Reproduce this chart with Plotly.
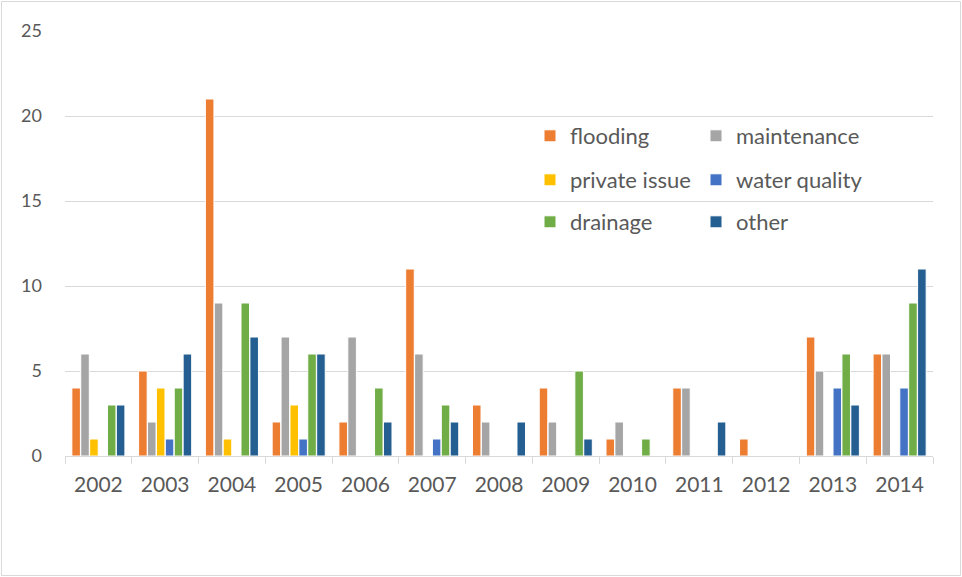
import plotly.graph_objects as go

years = ["2002", "2003", "2004", "2005", "2006", "2007", "2008",
         "2009", "2010", "2011", "2012", "2013", "2014"]
flooding = [4, 5, 21, 2, 2, 11, 3, 4, 1, 4, 1, 7, 6]
maintenance = [6, 2, 9, 7, 7, 6, 2, 2, 2, 4, 0, 5, 6]
private_issue = [1, 4, 1, 3, 0, 0, 0, 0, 0, 0, 0, 0, 0]
water_quality = [0, 1, 0, 1, 0, 1, 0, 0, 0, 0, 0, 4, 4]
drainage = [3, 4, 9, 6, 4, 3, 0, 5, 1, 0, 0, 6, 9]
other = [3, 6, 7, 6, 2, 2, 2, 1, 0, 2, 0, 3, 11]

series = [
    ("flooding", flooding, "#ED7D31", "legend"),
    ("maintenance", maintenance, "#A5A5A5", "legend"),
    ("private issue", private_issue, "#FFC000", "legend2"),
    ("water quality", water_quality, "#4472C4", "legend2"),
    ("drainage", drainage, "#70AD47", "legend3"),
    ("other", other, "#255E91", "legend3"),
]

W, H = 962, 577
ml, mr, mt, mb = 65, 29, 31, 121
pw, ph = W - ml - mr, H - mt - mb

fig = go.Figure()
for name, vals, color, lg in series:
    fig.add_trace(go.Bar(
        x=years, y=vals, name=name, legend=lg,
        marker=dict(color=color, line=dict(color="white", width=1)),
    ))

def px_x(x):
    return (x - ml) / pw

def px_y(y):
    return (H - mb - y) / ph

FONT = "Lato, Open Sans, sans-serif"
leg_common = dict(
    orientation="h", xanchor="left", yanchor="middle",
    font=dict(family=FONT, size=22, color="#595959"),
    bgcolor="rgba(0,0,0,0)", entrywidth=121, entrywidthmode="pixels",
    itemwidth=30, traceorder="normal",
)

fig.update_layout(
    width=W, height=H,
    margin=dict(l=ml, r=mr, t=mt, b=mb, pad=0, autoexpand=False),
    paper_bgcolor="white", plot_bgcolor="white",
    barmode="group", bargap=0.2, bargroupgap=0.04,
    font=dict(family=FONT, color="#595959"),
    legend=dict(x=px_x(530), y=px_y(136), **leg_common),
    legend2=dict(x=px_x(530), y=px_y(180), **leg_common),
    legend3=dict(x=px_x(530), y=px_y(222), **leg_common),
    xaxis=dict(
        type="category", showgrid=False, showline=True, linecolor="#D9D9D9",
        linewidth=1, ticks="outside", tickson="boundaries", ticklen=7,
        tickcolor="#D9D9D9", tickfont=dict(size=21, color="#595959"),
        ticklabelstandoff=10, automargin=False,
    ),
    yaxis=dict(
        range=[0, 25], dtick=5, showgrid=True, gridcolor="#D9D9D9", gridwidth=1,
        zeroline=False, showline=False, ticks="",
        tickfont=dict(size=18, color="#595959"), ticklabelstandoff=22,
        automargin=False,
    ),
    shapes=[dict(
        type="rect", xref="paper", yref="paper",
        x0=px_x(1.5), x1=px_x(960.5), y0=px_y(575.5), y1=px_y(1.5),
        line=dict(color="#D9D9D9", width=1), layer="below",
    )],
)

fig.write_html("out.html")
